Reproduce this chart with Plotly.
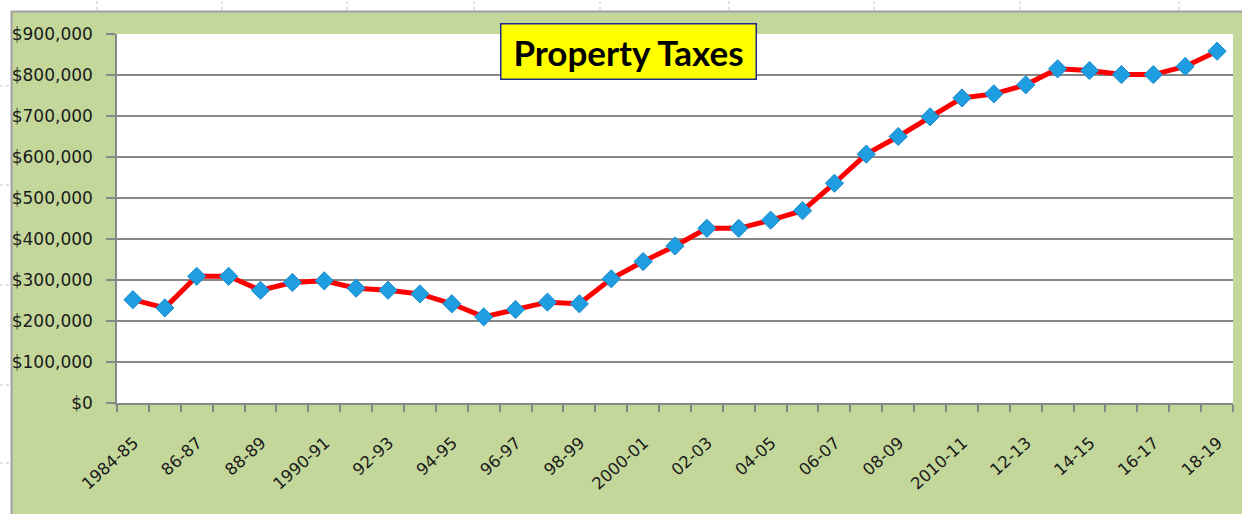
import plotly.graph_objects as go

# ---- data ----
categories = [
    "1984-85", "85-86", "86-87", "87-88", "88-89", "89-90", "1990-91", "91-92",
    "92-93", "93-94", "94-95", "95-96", "96-97", "97-98", "98-99", "99-00",
    "2000-01", "01-02", "02-03", "03-04", "04-05", "05-06", "06-07", "07-08",
    "08-09", "09-10", "2010-11", "11-12", "12-13", "13-14", "14-15", "15-16",
    "16-17", "17-18", "18-19",
]
property_taxes = [
    252000, 232000, 309000, 309000, 275000, 294000, 298000, 280000,
    275000, 266000, 242000, 210000, 228000, 246000, 242000, 303000,
    345000, 383000, 426000, 426000, 446000, 469000, 536000, 607000,
    650000, 698000, 744000, 754000, 776000, 815000, 811000, 801000,
    801000, 821000, 858000,
]
tick_labels = [c if i % 2 == 0 else "" for i, c in enumerate(categories)]
y_ticks = [0, 100000, 200000, 300000, 400000, 500000, 600000, 700000, 800000, 900000]
title_text = "<b>Property Taxes</b>"

# ---- geometry helpers (pixel -> paper) ----
W, H = 1242, 514
ML, MR, MT, MB = 117, 9, 34, 111
PW = W - ML - MR
PH = H - MT - MB


def px(x):
    return (x - ML) / PW


def py(y):
    return (H - MB - y) / PH


GREEN = "#c4d79b"
GRID = "#878787"

fig = go.Figure()
fig.add_trace(go.Scatter(
    x=categories,
    y=property_taxes,
    mode="lines+markers",
    line=dict(color="#ff0000", width=5),
    marker=dict(symbol="diamond", size=14, color="#1e9de0",
                line=dict(color="#1a8ccc", width=1)),
    showlegend=False,
    hoverinfo="x+y",
))

shapes = [
    # white strip at top and left (spreadsheet area)
    dict(type="rect", xref="paper", yref="paper", x0=px(0), x1=px(W), y0=py(11), y1=py(0),
         fillcolor="white", line=dict(width=0), layer="above"),
    dict(type="rect", xref="paper", yref="paper", x0=px(0), x1=px(11), y0=py(H), y1=py(0),
         fillcolor="white", line=dict(width=0), layer="above"),
    # chart border
    dict(type="line", xref="paper", yref="paper", x0=px(11), x1=px(W), y0=py(11.5), y1=py(11.5),
         line=dict(color="#a0a0a0", width=2), layer="above"),
    dict(type="line", xref="paper", yref="paper", x0=px(11.5), x1=px(11.5), y0=py(11), y1=py(H),
         line=dict(color="#a0a0a0", width=2), layer="above"),
]
for gx in [97, 222, 347, 474, 600, 729, 874, 1020, 1179]:
    shapes.append(dict(type="line", xref="paper", yref="paper", x0=px(gx), x1=px(gx),
                       y0=py(10), y1=py(0), line=dict(color="#c8c8c8", width=1, dash="dot"),
                       layer="above"))
for gy in [86, 185, 285, 385, 463]:
    shapes.append(dict(type="line", xref="paper", yref="paper", x0=px(0), x1=px(10),
                       y0=py(gy), y1=py(gy), line=dict(color="#c8c8c8", width=1, dash="dot"),
                       layer="above"))

fig.update_layout(
    width=W, height=H,
    margin=dict(l=ML, r=MR, t=MT, b=MB, pad=0),
    paper_bgcolor=GREEN,
    plot_bgcolor="white",
    shapes=shapes,
    font=dict(family="DejaVu Sans", size=16, color="#1a1a1a"),
    xaxis=dict(
        type="category",
        tickmode="array",
        tickvals=categories,
        ticktext=tick_labels,
        tickson="boundaries",
        ticks="outside",
        ticklen=7,
        tickwidth=1.5,
        tickcolor=GRID,
        tickangle=-42,
        ticklabelshift=1,
        ticklabelstandoff=22,
        showline=True,
        linecolor=GRID,
        linewidth=1.5,
        showgrid=False,
        range=[-0.5, len(categories) - 0.5],
        tickfont=dict(family="DejaVu Sans", size=16.5, color="#1a1a1a"),
        fixedrange=True,
    ),
    yaxis=dict(
        range=[0, 900000],
        tickmode="array",
        tickvals=y_ticks,
        tickformat="$,.0f",
        ticks="outside",
        ticklen=9,
        tickwidth=1.5,
        tickcolor=GRID,
        ticklabelstandoff=10,
        showline=True,
        linecolor=GRID,
        linewidth=1.5,
        showgrid=True,
        gridcolor=GRID,
        gridwidth=1.7,
        zeroline=False,
        tickfont=dict(family="DejaVu Sans", size=17, color="#1a1a1a"),
        fixedrange=True,
    ),
    annotations=[dict(
        text=title_text,
        xref="paper", yref="paper",
        x=px(628), y=py(51),
        xanchor="center", yanchor="middle",
        showarrow=False,
        font=dict(family="Lato", size=35, color="black"),
        bgcolor="#ffff00",
        bordercolor="#1f2a8f",
        borderwidth=1.5,
        borderpad=2,
        width=250,
        height=50,
    )],
)

fig.write_html("out.html", config={"displayModeBar": False},
               post_script="document.body.style.margin='0';")
